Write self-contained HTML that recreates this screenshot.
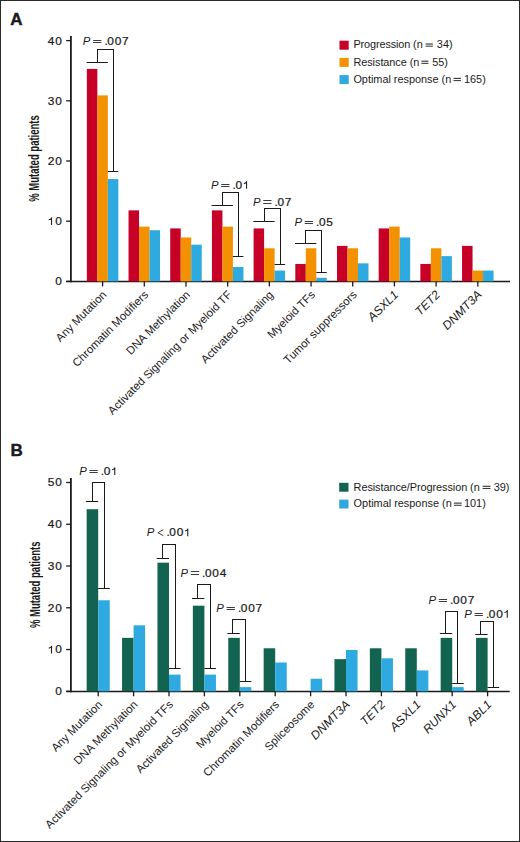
<!DOCTYPE html>
<html><head><meta charset="utf-8"><style>
html,body{margin:0;padding:0;background:#fff;}
body{width:520px;height:842px;overflow:hidden;position:relative;}
.frame{position:absolute;left:0;top:0;width:518px;height:840px;border:1px solid #2a2a2a;}
svg{position:absolute;left:0;top:0;}
text{font-family:"Liberation Sans", sans-serif;fill:#1a1a1a;}
</style></head><body>
<div class="frame"></div>
<svg width="520" height="842" viewBox="0 0 520 842">
<text x="10.30" y="24.80" font-size="17" text-anchor="start" font-weight="bold" stroke="#1a1a1a" stroke-width="0.45">A</text>
<line x1="70.90" y1="36.00" x2="70.90" y2="282.30" stroke="#1a1a1a" stroke-width="1.8"/>
<line x1="66.20" y1="281.40" x2="70.90" y2="281.40" stroke="#1a1a1a" stroke-width="1.3"/>
<g transform="translate(55.16,285.30) scale(1.08,1)"><text x="0.00" y="0" font-size="11.0" stroke="#1a1a1a" stroke-width="0.22">0</text></g>
<line x1="66.20" y1="221.20" x2="70.90" y2="221.20" stroke="#1a1a1a" stroke-width="1.3"/>
<path d="M51.56,225.10 V217.70 M51.86,217.50 C51.26,218.90 50.26,219.70 48.76,219.80" fill="none" stroke="#1a1a1a" stroke-width="1.05"/>
<g transform="translate(47.76,225.10) scale(1.08,1)"><text x="6.85" y="0" font-size="11.0" stroke="#1a1a1a" stroke-width="0.22">0</text></g>
<line x1="66.20" y1="161.00" x2="70.90" y2="161.00" stroke="#1a1a1a" stroke-width="1.3"/>
<g transform="translate(47.76,164.90) scale(1.08,1)"><text x="0.00 6.85" y="0" font-size="11.0" stroke="#1a1a1a" stroke-width="0.22">20</text></g>
<line x1="66.20" y1="100.80" x2="70.90" y2="100.80" stroke="#1a1a1a" stroke-width="1.3"/>
<g transform="translate(47.76,104.70) scale(1.08,1)"><text x="0.00 6.85" y="0" font-size="11.0" stroke="#1a1a1a" stroke-width="0.22">30</text></g>
<line x1="66.20" y1="40.60" x2="70.90" y2="40.60" stroke="#1a1a1a" stroke-width="1.3"/>
<g transform="translate(47.76,44.50) scale(1.08,1)"><text x="0.00 6.85" y="0" font-size="11.0" stroke="#1a1a1a" stroke-width="0.22">40</text></g>
<line x1="66.20" y1="281.55" x2="510.00" y2="281.55" stroke="#1a1a1a" stroke-width="1.6"/>
<g transform="translate(39.40,158.50) rotate(-90) scale(0.67,1)"><text x="0" y="0" font-size="14.2" font-weight="bold" text-anchor="middle">% Mutated patients</text></g>
<rect x="86.85" y="68.89" width="10.50" height="212.51" fill="#C60026"/>
<rect x="97.35" y="95.38" width="10.50" height="186.02" fill="#F39100"/>
<rect x="107.85" y="179.06" width="10.50" height="102.34" fill="#2EAAE1"/>
<line x1="102.60" y1="281.40" x2="102.60" y2="286.40" stroke="#1a1a1a" stroke-width="1.3"/>
<text transform="translate(107.30,295.40) rotate(-45)" font-size="11.4" text-anchor="end">Any Mutation</text>
<rect x="128.54" y="210.36" width="10.50" height="71.04" fill="#C60026"/>
<rect x="139.04" y="226.62" width="10.50" height="54.78" fill="#F39100"/>
<rect x="149.54" y="230.23" width="10.50" height="51.17" fill="#2EAAE1"/>
<line x1="144.29" y1="281.40" x2="144.29" y2="286.40" stroke="#1a1a1a" stroke-width="1.3"/>
<text transform="translate(148.99,295.40) rotate(-45)" font-size="11.4" text-anchor="end">Chromatin Modifiers</text>
<rect x="170.23" y="228.42" width="10.50" height="52.98" fill="#C60026"/>
<rect x="180.73" y="237.45" width="10.50" height="43.95" fill="#F39100"/>
<rect x="191.23" y="244.68" width="10.50" height="36.72" fill="#2EAAE1"/>
<line x1="185.98" y1="281.40" x2="185.98" y2="286.40" stroke="#1a1a1a" stroke-width="1.3"/>
<text transform="translate(190.68,295.40) rotate(-45)" font-size="11.4" text-anchor="end">DNA Methylation</text>
<rect x="211.92" y="210.36" width="10.50" height="71.04" fill="#C60026"/>
<rect x="222.42" y="226.62" width="10.50" height="54.78" fill="#F39100"/>
<rect x="232.92" y="266.95" width="10.50" height="14.45" fill="#2EAAE1"/>
<line x1="227.67" y1="281.40" x2="227.67" y2="286.40" stroke="#1a1a1a" stroke-width="1.3"/>
<text transform="translate(232.37,295.40) rotate(-45)" font-size="11.4" text-anchor="end">Activated Signaling or Myeloid TF</text>
<rect x="253.61" y="228.42" width="10.50" height="52.98" fill="#C60026"/>
<rect x="264.11" y="248.29" width="10.50" height="33.11" fill="#F39100"/>
<rect x="274.61" y="270.56" width="10.50" height="10.84" fill="#2EAAE1"/>
<line x1="269.36" y1="281.40" x2="269.36" y2="286.40" stroke="#1a1a1a" stroke-width="1.3"/>
<text transform="translate(274.06,295.40) rotate(-45)" font-size="11.4" text-anchor="end">Activated Signaling</text>
<rect x="295.30" y="263.94" width="10.50" height="17.46" fill="#C60026"/>
<rect x="305.80" y="248.29" width="10.50" height="33.11" fill="#F39100"/>
<rect x="316.30" y="277.79" width="10.50" height="3.61" fill="#2EAAE1"/>
<line x1="311.05" y1="281.40" x2="311.05" y2="286.40" stroke="#1a1a1a" stroke-width="1.3"/>
<text transform="translate(315.75,295.40) rotate(-45)" font-size="11.4" text-anchor="end">Myeloid TFs</text>
<rect x="336.99" y="245.88" width="10.50" height="35.52" fill="#C60026"/>
<rect x="347.49" y="248.29" width="10.50" height="33.11" fill="#F39100"/>
<rect x="357.99" y="263.34" width="10.50" height="18.06" fill="#2EAAE1"/>
<line x1="352.74" y1="281.40" x2="352.74" y2="286.40" stroke="#1a1a1a" stroke-width="1.3"/>
<text transform="translate(357.44,295.40) rotate(-45)" font-size="11.4" text-anchor="end">Tumor suppressors</text>
<rect x="378.68" y="228.42" width="10.50" height="52.98" fill="#C60026"/>
<rect x="389.18" y="226.62" width="10.50" height="54.78" fill="#F39100"/>
<rect x="399.68" y="237.45" width="10.50" height="43.95" fill="#2EAAE1"/>
<line x1="394.43" y1="281.40" x2="394.43" y2="286.40" stroke="#1a1a1a" stroke-width="1.3"/>
<text transform="translate(399.13,295.40) rotate(-45)" font-size="11.4" text-anchor="end"><tspan font-style="italic" font-size="12.1">ASXL1</tspan></text>
<rect x="420.37" y="263.94" width="10.50" height="17.46" fill="#C60026"/>
<rect x="430.87" y="248.29" width="10.50" height="33.11" fill="#F39100"/>
<rect x="441.37" y="256.12" width="10.50" height="25.28" fill="#2EAAE1"/>
<line x1="436.12" y1="281.40" x2="436.12" y2="286.40" stroke="#1a1a1a" stroke-width="1.3"/>
<text transform="translate(440.82,295.40) rotate(-45)" font-size="11.4" text-anchor="end"><tspan font-style="italic" font-size="12.1">TET2</tspan></text>
<rect x="462.06" y="245.88" width="10.50" height="35.52" fill="#C60026"/>
<rect x="472.56" y="270.56" width="10.50" height="10.84" fill="#F39100"/>
<rect x="483.06" y="270.56" width="10.50" height="10.84" fill="#2EAAE1"/>
<line x1="477.81" y1="281.40" x2="477.81" y2="286.40" stroke="#1a1a1a" stroke-width="1.3"/>
<text transform="translate(482.51,295.40) rotate(-45)" font-size="11.4" text-anchor="end"><tspan font-style="italic" font-size="12.1">DNMT3A</tspan></text>
<rect x="339.50" y="40.70" width="9.20" height="9.00" fill="#C60026"/>
<text x="353.40" y="48.30" font-size="10.9" textLength="69.30" lengthAdjust="spacing">Progression (n</text>
<text x="452.60" y="48.30" font-size="10.9" text-anchor="end">34)</text>
<rect x="425.60" y="43.45" width="7.30" height="1.15" fill="#3a3a3a"/>
<rect x="425.60" y="45.65" width="7.30" height="1.05" fill="#3a3a3a"/>
<rect x="339.50" y="57.90" width="9.20" height="9.00" fill="#F39100"/>
<text x="353.40" y="65.50" font-size="10.9" textLength="66.00" lengthAdjust="spacing">Resistance (n</text>
<text x="448.00" y="65.50" font-size="10.9" text-anchor="end">55)</text>
<rect x="421.40" y="60.65" width="7.00" height="1.15" fill="#3a3a3a"/>
<rect x="421.40" y="62.85" width="7.00" height="1.05" fill="#3a3a3a"/>
<rect x="339.50" y="75.10" width="9.20" height="9.00" fill="#2EAAE1"/>
<text x="353.40" y="82.70" font-size="10.9" textLength="97.90" lengthAdjust="spacing">Optimal response (n</text>
<text x="485.80" y="82.70" font-size="10.9" text-anchor="end">165)</text>
<rect x="453.50" y="77.85" width="7.40" height="1.15" fill="#3a3a3a"/>
<rect x="453.50" y="80.05" width="7.40" height="1.05" fill="#3a3a3a"/>
<line x1="86.55" y1="62.50" x2="107.85" y2="62.50" stroke="#1a1a1a" stroke-width="1.0"/>
<line x1="97.5" y1="62.5" x2="97.5" y2="49.5" stroke="#1a1a1a" stroke-width="1"/>
<line x1="97.0" y1="49.5" x2="114.0" y2="49.5" stroke="#1a1a1a" stroke-width="1"/>
<line x1="113.5" y1="49.5" x2="113.5" y2="171.5" stroke="#1a1a1a" stroke-width="1"/>
<line x1="107.85" y1="171.50" x2="118.35" y2="171.50" stroke="#1a1a1a" stroke-width="1.0"/>
<g transform="translate(82.85,45.00) scale(1.03,1)"><text x="0" y="0" font-size="11.0" font-style="italic">P</text></g>
<line x1="93.10" y1="40.50" x2="101.40" y2="40.50" stroke="#1a1a1a" stroke-width="0.85"/>
<line x1="93.10" y1="42.50" x2="101.40" y2="42.50" stroke="#1a1a1a" stroke-width="0.85"/>
<g transform="translate(104.42,45.00) scale(1.08,1)"><text x="0.00 2.73 9.49 16.25" y="0" font-size="11.0" stroke="#1a1a1a" stroke-width="0.22">.007</text></g>
<line x1="211.62" y1="205.50" x2="232.92" y2="205.50" stroke="#1a1a1a" stroke-width="1.0"/>
<line x1="222.5" y1="205.5" x2="222.5" y2="192.5" stroke="#1a1a1a" stroke-width="1"/>
<line x1="222.0" y1="192.5" x2="239.0" y2="192.5" stroke="#1a1a1a" stroke-width="1"/>
<line x1="238.5" y1="192.5" x2="238.5" y2="256.5" stroke="#1a1a1a" stroke-width="1"/>
<line x1="232.92" y1="256.50" x2="243.42" y2="256.50" stroke="#1a1a1a" stroke-width="1.0"/>
<g transform="translate(210.95,188.80) scale(1.03,1)"><text x="0" y="0" font-size="11.0" font-style="italic">P</text></g>
<line x1="221.20" y1="184.50" x2="229.50" y2="184.50" stroke="#1a1a1a" stroke-width="0.85"/>
<line x1="221.20" y1="186.50" x2="229.50" y2="186.50" stroke="#1a1a1a" stroke-width="0.85"/>
<path d="M246.57,188.80 V181.40 M246.87,181.20 C246.27,182.60 245.27,183.40 243.77,183.50" fill="none" stroke="#1a1a1a" stroke-width="1.05"/>
<g transform="translate(232.52,188.80) scale(1.08,1)"><text x="0.00 2.73" y="0" font-size="11.0" stroke="#1a1a1a" stroke-width="0.22">.0</text></g>
<line x1="253.31" y1="221.50" x2="274.61" y2="221.50" stroke="#1a1a1a" stroke-width="1.0"/>
<line x1="264.5" y1="221.5" x2="264.5" y2="208.5" stroke="#1a1a1a" stroke-width="1"/>
<line x1="264.0" y1="208.5" x2="281.0" y2="208.5" stroke="#1a1a1a" stroke-width="1"/>
<line x1="280.5" y1="208.5" x2="280.5" y2="264.5" stroke="#1a1a1a" stroke-width="1"/>
<line x1="274.61" y1="264.50" x2="285.11" y2="264.50" stroke="#1a1a1a" stroke-width="1.0"/>
<g transform="translate(252.95,205.50) scale(1.03,1)"><text x="0" y="0" font-size="11.0" font-style="italic">P</text></g>
<line x1="263.20" y1="200.50" x2="271.50" y2="200.50" stroke="#1a1a1a" stroke-width="0.85"/>
<line x1="263.20" y1="203.50" x2="271.50" y2="203.50" stroke="#1a1a1a" stroke-width="0.85"/>
<g transform="translate(274.52,205.50) scale(1.08,1)"><text x="0.00 2.73 9.49" y="0" font-size="11.0" stroke="#1a1a1a" stroke-width="0.22">.07</text></g>
<line x1="295.00" y1="243.50" x2="316.30" y2="243.50" stroke="#1a1a1a" stroke-width="1.0"/>
<line x1="305.5" y1="243.5" x2="305.5" y2="230.5" stroke="#1a1a1a" stroke-width="1"/>
<line x1="305.0" y1="230.5" x2="322.0" y2="230.5" stroke="#1a1a1a" stroke-width="1"/>
<line x1="321.5" y1="230.5" x2="321.5" y2="272.5" stroke="#1a1a1a" stroke-width="1"/>
<line x1="316.30" y1="272.50" x2="326.80" y2="272.50" stroke="#1a1a1a" stroke-width="1.0"/>
<g transform="translate(294.45,226.00) scale(1.03,1)"><text x="0" y="0" font-size="11.0" font-style="italic">P</text></g>
<line x1="304.70" y1="221.50" x2="313.00" y2="221.50" stroke="#1a1a1a" stroke-width="0.85"/>
<line x1="304.70" y1="223.50" x2="313.00" y2="223.50" stroke="#1a1a1a" stroke-width="0.85"/>
<g transform="translate(316.02,226.00) scale(1.08,1)"><text x="0.00 2.73 9.49" y="0" font-size="11.0" stroke="#1a1a1a" stroke-width="0.22">.05</text></g>
<text x="10.60" y="456.00" font-size="17" text-anchor="start" font-weight="bold" stroke="#1a1a1a" stroke-width="0.45">B</text>
<line x1="70.90" y1="478.00" x2="70.90" y2="692.20" stroke="#1a1a1a" stroke-width="1.8"/>
<line x1="66.20" y1="691.30" x2="70.90" y2="691.30" stroke="#1a1a1a" stroke-width="1.3"/>
<g transform="translate(55.16,695.20) scale(1.08,1)"><text x="0.00" y="0" font-size="11.0" stroke="#1a1a1a" stroke-width="0.22">0</text></g>
<line x1="66.20" y1="649.54" x2="70.90" y2="649.54" stroke="#1a1a1a" stroke-width="1.3"/>
<path d="M51.56,653.44 V646.04 M51.86,645.84 C51.26,647.24 50.26,648.04 48.76,648.14" fill="none" stroke="#1a1a1a" stroke-width="1.05"/>
<g transform="translate(47.76,653.44) scale(1.08,1)"><text x="6.85" y="0" font-size="11.0" stroke="#1a1a1a" stroke-width="0.22">0</text></g>
<line x1="66.20" y1="607.78" x2="70.90" y2="607.78" stroke="#1a1a1a" stroke-width="1.3"/>
<g transform="translate(47.76,611.68) scale(1.08,1)"><text x="0.00 6.85" y="0" font-size="11.0" stroke="#1a1a1a" stroke-width="0.22">20</text></g>
<line x1="66.20" y1="566.02" x2="70.90" y2="566.02" stroke="#1a1a1a" stroke-width="1.3"/>
<g transform="translate(47.76,569.92) scale(1.08,1)"><text x="0.00 6.85" y="0" font-size="11.0" stroke="#1a1a1a" stroke-width="0.22">30</text></g>
<line x1="66.20" y1="524.26" x2="70.90" y2="524.26" stroke="#1a1a1a" stroke-width="1.3"/>
<g transform="translate(47.76,528.16) scale(1.08,1)"><text x="0.00 6.85" y="0" font-size="11.0" stroke="#1a1a1a" stroke-width="0.22">40</text></g>
<line x1="66.20" y1="482.50" x2="70.90" y2="482.50" stroke="#1a1a1a" stroke-width="1.3"/>
<g transform="translate(47.76,486.40) scale(1.08,1)"><text x="0.00 6.85" y="0" font-size="11.0" stroke="#1a1a1a" stroke-width="0.22">50</text></g>
<line x1="66.20" y1="691.45" x2="509.70" y2="691.45" stroke="#1a1a1a" stroke-width="1.6"/>
<g transform="translate(39.60,584.80) rotate(-90) scale(0.67,1)"><text x="0" y="0" font-size="14.2" font-weight="bold" text-anchor="middle">% Mutated patients</text></g>
<rect x="86.65" y="509.23" width="11.55" height="182.07" fill="#126450"/>
<rect x="98.20" y="600.26" width="11.55" height="91.04" fill="#2EAAE1"/>
<line x1="98.20" y1="691.30" x2="98.20" y2="696.30" stroke="#1a1a1a" stroke-width="1.3"/>
<text transform="translate(102.90,705.30) rotate(-45)" font-size="11.4" text-anchor="end">Any Mutation</text>
<rect x="122.05" y="637.85" width="11.55" height="53.45" fill="#126450"/>
<rect x="133.60" y="625.32" width="11.55" height="65.98" fill="#2EAAE1"/>
<line x1="133.60" y1="691.30" x2="133.60" y2="696.30" stroke="#1a1a1a" stroke-width="1.3"/>
<text transform="translate(138.30,705.30) rotate(-45)" font-size="11.4" text-anchor="end">DNA Methylation</text>
<rect x="157.45" y="562.68" width="11.55" height="128.62" fill="#126450"/>
<rect x="169.00" y="674.60" width="11.55" height="16.70" fill="#2EAAE1"/>
<line x1="169.00" y1="691.30" x2="169.00" y2="696.30" stroke="#1a1a1a" stroke-width="1.3"/>
<text transform="translate(173.70,705.30) rotate(-45)" font-size="11.4" text-anchor="end">Activated Signaling or Myeloid TFs</text>
<rect x="192.85" y="605.69" width="11.55" height="85.61" fill="#126450"/>
<rect x="204.40" y="674.60" width="11.55" height="16.70" fill="#2EAAE1"/>
<line x1="204.40" y1="691.30" x2="204.40" y2="696.30" stroke="#1a1a1a" stroke-width="1.3"/>
<text transform="translate(209.10,705.30) rotate(-45)" font-size="11.4" text-anchor="end">Activated Signaling</text>
<rect x="228.25" y="637.85" width="11.55" height="53.45" fill="#126450"/>
<rect x="239.80" y="687.12" width="11.55" height="4.18" fill="#2EAAE1"/>
<line x1="239.80" y1="691.30" x2="239.80" y2="696.30" stroke="#1a1a1a" stroke-width="1.3"/>
<text transform="translate(244.50,705.30) rotate(-45)" font-size="11.4" text-anchor="end">Myeloid TFs</text>
<rect x="263.65" y="648.29" width="11.55" height="43.01" fill="#126450"/>
<rect x="275.20" y="662.49" width="11.55" height="28.81" fill="#2EAAE1"/>
<line x1="275.20" y1="691.30" x2="275.20" y2="696.30" stroke="#1a1a1a" stroke-width="1.3"/>
<text transform="translate(279.90,705.30) rotate(-45)" font-size="11.4" text-anchor="end">Chromatin Modifiers</text>
<rect x="310.60" y="678.77" width="11.55" height="12.53" fill="#2EAAE1"/>
<line x1="310.60" y1="691.30" x2="310.60" y2="696.30" stroke="#1a1a1a" stroke-width="1.3"/>
<text transform="translate(315.30,705.30) rotate(-45)" font-size="11.4" text-anchor="end">Spliceosome</text>
<rect x="334.45" y="659.14" width="11.55" height="32.16" fill="#126450"/>
<rect x="346.00" y="649.96" width="11.55" height="41.34" fill="#2EAAE1"/>
<line x1="346.00" y1="691.30" x2="346.00" y2="696.30" stroke="#1a1a1a" stroke-width="1.3"/>
<text transform="translate(350.70,705.30) rotate(-45)" font-size="11.4" text-anchor="end"><tspan font-style="italic" font-size="12.1">DNMT3A</tspan></text>
<rect x="369.85" y="648.29" width="11.55" height="43.01" fill="#126450"/>
<rect x="381.40" y="658.31" width="11.55" height="32.99" fill="#2EAAE1"/>
<line x1="381.40" y1="691.30" x2="381.40" y2="696.30" stroke="#1a1a1a" stroke-width="1.3"/>
<text transform="translate(386.10,705.30) rotate(-45)" font-size="11.4" text-anchor="end"><tspan font-style="italic" font-size="12.1">TET2</tspan></text>
<rect x="405.25" y="648.29" width="11.55" height="43.01" fill="#126450"/>
<rect x="416.80" y="670.42" width="11.55" height="20.88" fill="#2EAAE1"/>
<line x1="416.80" y1="691.30" x2="416.80" y2="696.30" stroke="#1a1a1a" stroke-width="1.3"/>
<text transform="translate(421.50,705.30) rotate(-45)" font-size="11.4" text-anchor="end"><tspan font-style="italic" font-size="12.1">ASXL1</tspan></text>
<rect x="440.65" y="637.85" width="11.55" height="53.45" fill="#126450"/>
<rect x="452.20" y="687.12" width="11.55" height="4.18" fill="#2EAAE1"/>
<line x1="452.20" y1="691.30" x2="452.20" y2="696.30" stroke="#1a1a1a" stroke-width="1.3"/>
<text transform="translate(456.90,705.30) rotate(-45)" font-size="11.4" text-anchor="end"><tspan font-style="italic" font-size="12.1">RUNX1</tspan></text>
<rect x="476.05" y="637.85" width="11.55" height="53.45" fill="#126450"/>
<line x1="487.60" y1="691.30" x2="487.60" y2="696.30" stroke="#1a1a1a" stroke-width="1.3"/>
<text transform="translate(492.30,705.30) rotate(-45)" font-size="11.4" text-anchor="end"><tspan font-style="italic" font-size="12.1">ABL1</tspan></text>
<rect x="339.20" y="482.80" width="9.30" height="8.90" fill="#126450"/>
<text x="353.60" y="490.60" font-size="10.9" textLength="126.10" lengthAdjust="spacing">Resistance/Progression (n</text>
<text x="509.50" y="490.60" font-size="10.9" text-anchor="end">39)</text>
<rect x="482.60" y="485.75" width="7.90" height="1.15" fill="#3a3a3a"/>
<rect x="482.60" y="487.95" width="7.90" height="1.05" fill="#3a3a3a"/>
<rect x="339.20" y="499.60" width="9.30" height="8.90" fill="#2EAAE1"/>
<text x="353.60" y="507.40" font-size="10.9" textLength="98.10" lengthAdjust="spacing">Optimal response (n</text>
<text x="485.80" y="507.40" font-size="10.9" text-anchor="end">101)</text>
<rect x="453.90" y="502.55" width="7.80" height="1.15" fill="#3a3a3a"/>
<rect x="453.90" y="504.75" width="7.80" height="1.05" fill="#3a3a3a"/>
<line x1="85.85" y1="501.50" x2="98.20" y2="501.50" stroke="#1a1a1a" stroke-width="1.0"/>
<line x1="92.5" y1="501.5" x2="92.5" y2="482.5" stroke="#1a1a1a" stroke-width="1"/>
<line x1="92.0" y1="482.5" x2="105.0" y2="482.5" stroke="#1a1a1a" stroke-width="1"/>
<line x1="104.5" y1="482.5" x2="104.5" y2="588.5" stroke="#1a1a1a" stroke-width="1"/>
<line x1="98.20" y1="588.50" x2="109.75" y2="588.50" stroke="#1a1a1a" stroke-width="1.0"/>
<g transform="translate(79.15,475.00) scale(1.03,1)"><text x="0" y="0" font-size="11.0" font-style="italic">P</text></g>
<line x1="89.40" y1="470.50" x2="97.70" y2="470.50" stroke="#1a1a1a" stroke-width="0.85"/>
<line x1="89.40" y1="472.50" x2="97.70" y2="472.50" stroke="#1a1a1a" stroke-width="0.85"/>
<path d="M114.77,475.00 V467.60 M115.07,467.40 C114.47,468.80 113.47,469.60 111.97,469.70" fill="none" stroke="#1a1a1a" stroke-width="1.05"/>
<g transform="translate(100.72,475.00) scale(1.08,1)"><text x="0.00 2.73" y="0" font-size="11.0" stroke="#1a1a1a" stroke-width="0.22">.0</text></g>
<line x1="156.65" y1="558.50" x2="169.00" y2="558.50" stroke="#1a1a1a" stroke-width="1.0"/>
<line x1="162.5" y1="558.5" x2="162.5" y2="544.5" stroke="#1a1a1a" stroke-width="1"/>
<line x1="162.0" y1="544.5" x2="176.0" y2="544.5" stroke="#1a1a1a" stroke-width="1"/>
<line x1="175.5" y1="544.5" x2="175.5" y2="668.5" stroke="#1a1a1a" stroke-width="1"/>
<line x1="169.00" y1="668.50" x2="180.55" y2="668.50" stroke="#1a1a1a" stroke-width="1.0"/>
<g transform="translate(146.85,536.20) scale(1.03,1)"><text x="0" y="0" font-size="11.0" font-style="italic">P</text></g>
<polyline points="163.40,529.70 157.90,532.70 163.40,535.70" fill="none" stroke="#1a1a1a" stroke-width="0.85"/>
<path d="M187.77,536.20 V528.80 M188.07,528.60 C187.47,530.00 186.47,530.80 184.97,530.90" fill="none" stroke="#1a1a1a" stroke-width="1.05"/>
<g transform="translate(166.42,536.20) scale(1.08,1)"><text x="0.00 2.73 9.49" y="0" font-size="11.0" stroke="#1a1a1a" stroke-width="0.22">.00</text></g>
<line x1="192.05" y1="598.50" x2="204.40" y2="598.50" stroke="#1a1a1a" stroke-width="1.0"/>
<line x1="197.5" y1="598.5" x2="197.5" y2="584.5" stroke="#1a1a1a" stroke-width="1"/>
<line x1="197.0" y1="584.5" x2="211.0" y2="584.5" stroke="#1a1a1a" stroke-width="1"/>
<line x1="210.5" y1="584.5" x2="210.5" y2="668.5" stroke="#1a1a1a" stroke-width="1"/>
<line x1="204.40" y1="668.50" x2="215.95" y2="668.50" stroke="#1a1a1a" stroke-width="1.0"/>
<g transform="translate(180.55,576.50) scale(1.03,1)"><text x="0" y="0" font-size="11.0" font-style="italic">P</text></g>
<line x1="190.80" y1="571.50" x2="199.10" y2="571.50" stroke="#1a1a1a" stroke-width="0.85"/>
<line x1="190.80" y1="574.50" x2="199.10" y2="574.50" stroke="#1a1a1a" stroke-width="0.85"/>
<g transform="translate(202.12,576.50) scale(1.08,1)"><text x="0.00 2.73 9.49 16.25" y="0" font-size="11.0" stroke="#1a1a1a" stroke-width="0.22">.004</text></g>
<line x1="227.45" y1="633.50" x2="239.80" y2="633.50" stroke="#1a1a1a" stroke-width="1.0"/>
<line x1="232.5" y1="633.5" x2="232.5" y2="619.5" stroke="#1a1a1a" stroke-width="1"/>
<line x1="232.0" y1="619.5" x2="246.0" y2="619.5" stroke="#1a1a1a" stroke-width="1"/>
<line x1="245.5" y1="619.5" x2="245.5" y2="681.5" stroke="#1a1a1a" stroke-width="1"/>
<line x1="239.80" y1="681.50" x2="251.35" y2="681.50" stroke="#1a1a1a" stroke-width="1.0"/>
<g transform="translate(216.35,612.00) scale(1.03,1)"><text x="0" y="0" font-size="11.0" font-style="italic">P</text></g>
<line x1="226.60" y1="607.50" x2="234.90" y2="607.50" stroke="#1a1a1a" stroke-width="0.85"/>
<line x1="226.60" y1="609.50" x2="234.90" y2="609.50" stroke="#1a1a1a" stroke-width="0.85"/>
<g transform="translate(237.92,612.00) scale(1.08,1)"><text x="0.00 2.73 9.49 16.25" y="0" font-size="11.0" stroke="#1a1a1a" stroke-width="0.22">.007</text></g>
<line x1="439.85" y1="633.50" x2="452.20" y2="633.50" stroke="#1a1a1a" stroke-width="1.0"/>
<line x1="445.5" y1="633.5" x2="445.5" y2="611.5" stroke="#1a1a1a" stroke-width="1"/>
<line x1="445.0" y1="611.5" x2="458.0" y2="611.5" stroke="#1a1a1a" stroke-width="1"/>
<line x1="457.5" y1="611.5" x2="457.5" y2="683.5" stroke="#1a1a1a" stroke-width="1"/>
<line x1="452.20" y1="683.50" x2="463.75" y2="683.50" stroke="#1a1a1a" stroke-width="1.0"/>
<g transform="translate(428.55,603.90) scale(1.03,1)"><text x="0" y="0" font-size="11.0" font-style="italic">P</text></g>
<line x1="438.80" y1="599.50" x2="447.10" y2="599.50" stroke="#1a1a1a" stroke-width="0.85"/>
<line x1="438.80" y1="601.50" x2="447.10" y2="601.50" stroke="#1a1a1a" stroke-width="0.85"/>
<g transform="translate(450.12,603.90) scale(1.08,1)"><text x="0.00 2.73 9.49 16.25" y="0" font-size="11.0" stroke="#1a1a1a" stroke-width="0.22">.007</text></g>
<line x1="475.25" y1="634.50" x2="487.60" y2="634.50" stroke="#1a1a1a" stroke-width="1.0"/>
<line x1="480.5" y1="634.5" x2="480.5" y2="621.5" stroke="#1a1a1a" stroke-width="1"/>
<line x1="480.0" y1="621.5" x2="494.0" y2="621.5" stroke="#1a1a1a" stroke-width="1"/>
<line x1="493.5" y1="621.5" x2="493.5" y2="687.5" stroke="#1a1a1a" stroke-width="1"/>
<line x1="487.60" y1="687.50" x2="499.15" y2="687.50" stroke="#1a1a1a" stroke-width="1.0"/>
<g transform="translate(464.35,617.70) scale(1.03,1)"><text x="0" y="0" font-size="11.0" font-style="italic">P</text></g>
<line x1="474.60" y1="613.50" x2="482.90" y2="613.50" stroke="#1a1a1a" stroke-width="0.85"/>
<line x1="474.60" y1="615.50" x2="482.90" y2="615.50" stroke="#1a1a1a" stroke-width="0.85"/>
<path d="M507.27,617.70 V610.30 M507.57,610.10 C506.97,611.50 505.97,612.30 504.47,612.40" fill="none" stroke="#1a1a1a" stroke-width="1.05"/>
<g transform="translate(485.92,617.70) scale(1.08,1)"><text x="0.00 2.73 9.49" y="0" font-size="11.0" stroke="#1a1a1a" stroke-width="0.22">.00</text></g>
</svg>
</body></html>
